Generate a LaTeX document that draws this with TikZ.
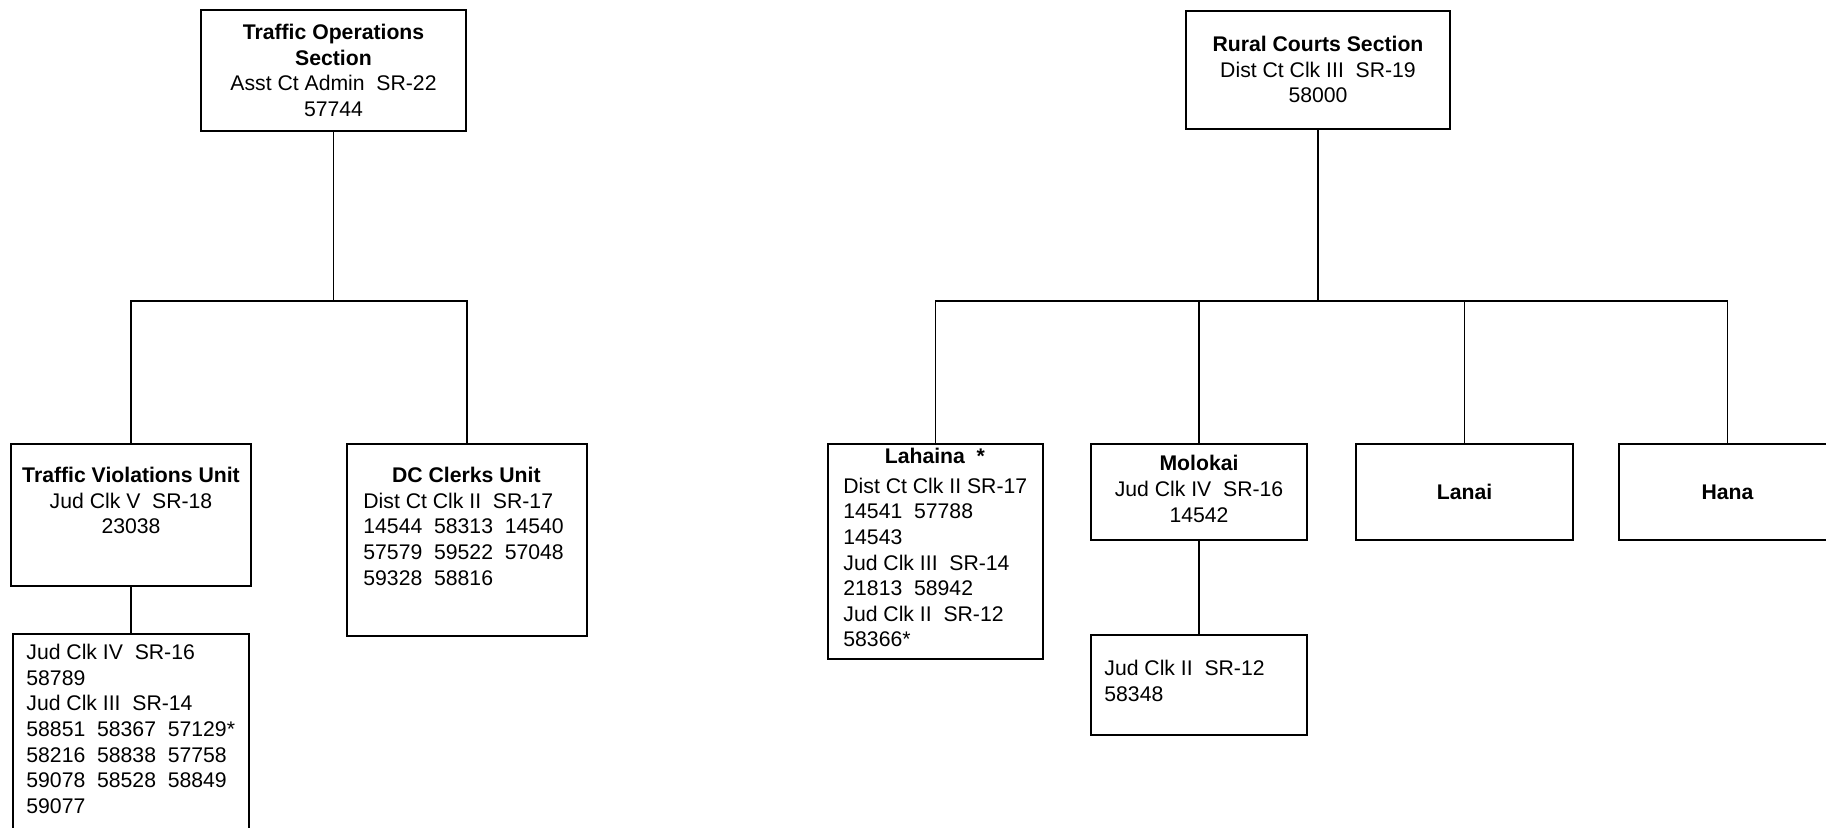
\documentclass[tikz,border=0pt]{standalone}
\usepackage{fontspec}
\setmainfont{Liberation Sans}
\tikzset{
  unit/.style={draw, line width=1pt, inner sep=0pt, anchor=north west},
  txt/.style={inner sep=0pt, align=center, anchor=north,
    font=\fontsize{10.6pt}{12.8pt}\selectfont},
  wire/.style={line width=0.7pt}
}
\begin{document}
\begin{tikzpicture}[x=0.5pt, y=-0.5pt]
  \useasboundingbox (0,0) rectangle (1826,827);
  % traffic side
  \node[unit, minimum width=132.5pt, minimum height=60.5pt] (ops) at (200,9) {};
  \node[unit, minimum width=120pt, minimum height=71pt] (viol) at (10,443) {};
  \node[unit, minimum width=120pt, minimum height=96pt] (dcclk) at (346,443) {};
  \node[unit, minimum width=118pt, minimum height=110pt] (judclk) at (12,633) {};
  \node[txt] (opsT) at ([yshift=-7.5pt]ops.north)
    {\textbf{Traffic Operations}\\\textbf{Section}\\Asst Ct Admin\ \ SR-22\\57744};
  \node[txt] (violT) at ([yshift=-12pt]viol.north)
    {\textbf{Traffic Violations Unit}\\Jud Clk V\ \ SR-18\\23038};
  \node[txt, anchor=north west, align=left] (dcclkT) at ([xshift=8.5pt,yshift=-12pt]dcclk.north west)
    {\makebox[103pt]{\textbf{DC Clerks Unit}}\\Dist Ct Clk II\ \ SR-17\\14544\ \ 58313\ \ 14540\\
     57579\ \ 59522\ \ 57048\\59328\ \ 58816};
  \node[txt, anchor=north west, align=left] (judclkT) at ([xshift=7pt,yshift=-5.5pt]judclk.north west)
    {Jud Clk IV\ \ SR-16\\58789\\Jud Clk III\ \ SR-14\\58851\ \ 58367\ \ 57129*\\
     58216\ \ 58838\ \ 57758\\59078\ \ 58528\ \ 58849\\59077};
  \foreach \c in {viol,dcclk}
    \draw[wire] (ops.south) -- ++(0,169) -| (\c.north);
  \draw[wire] (viol.south) -- (judclk.north);
  % rural side
  \node[unit, minimum width=132pt, minimum height=59pt] (rural) at (1185,10) {};
  \node[unit, minimum width=107.5pt, minimum height=107.5pt] (lahaina) at (827,443) {};
  \node[unit, minimum width=108pt, minimum height=48pt] (molokai) at (1090,443) {};
  \node[unit, minimum width=108.5pt, minimum height=48pt] (lanai) at (1355,443) {};
  \node[unit, minimum width=108.5pt, minimum height=48pt] (hana) at (1618,443) {};
  \node[unit, minimum width=108pt, minimum height=50pt] (molclk) at (1090,634) {};
  \node[txt] (ruralT) at ([yshift=-13pt]rural.north)
    {\textbf{Rural Courts Section}\\Dist Ct Clk III\ \ SR-19\\58000};
  \node[txt, anchor=north west, align=left] (lahainaT) at ([xshift=8pt,yshift=-2.5pt]lahaina.north west)
    {\makebox[91.5pt]{\textbf{Lahaina\ \ *}}\\[2pt]Dist Ct Clk II SR-17\\14541\ \ 57788\\14543\\
     Jud Clk III\ \ SR-14\\21813\ \ 58942\\Jud Clk II\ \ SR-12\\58366*};
  \node[txt, anchor=center] (molokaiT) at ([yshift=1.5pt]molokai.center)
    {\textbf{Molokai}\\Jud Clk IV\ \ SR-16\\14542};
  \node[txt, anchor=center] (lanaiT) at (lanai.center) {\textbf{Lanai}};
  \node[txt, anchor=center] (hanaT) at (hana.center) {\textbf{Hana}};
  \node[txt, anchor=north west, align=left] (molclkT) at ([xshift=7pt,yshift=-13pt]molclk.north west)
    {Jud Clk II\ \ SR-12\\58348};
  \foreach \c in {lahaina,molokai,lanai,hana}
    \draw[wire] (rural.south) -- ++(0,171) -| (\c.north);
  \draw[wire] (molokai.south) -- (molclk.north);
\end{tikzpicture}
\end{document}
